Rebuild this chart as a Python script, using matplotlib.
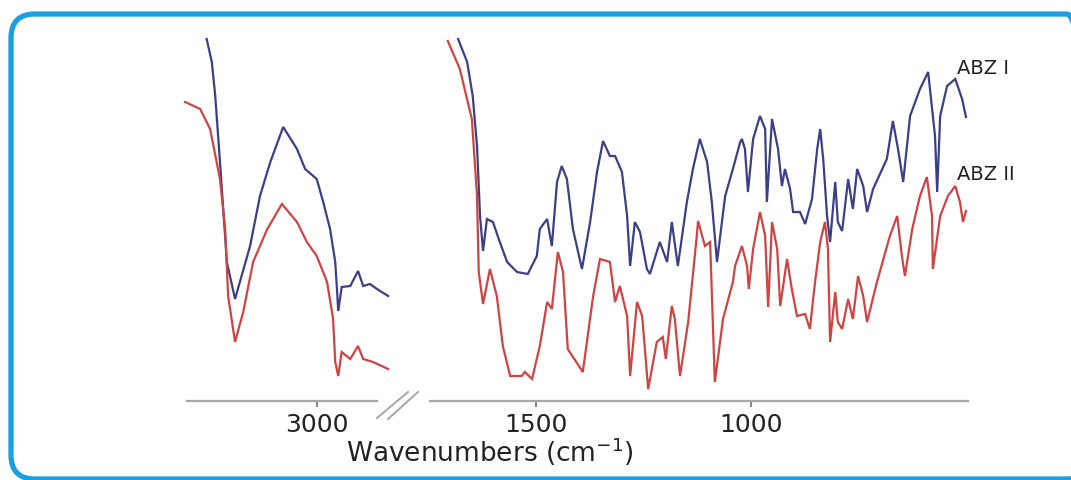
import matplotlib
matplotlib.use("Agg")
import matplotlib.pyplot as plt
from matplotlib.patches import FancyBboxPatch
from matplotlib.lines import Line2D
from matplotlib.transforms import IdentityTransform

# ---------------- data (wavenumber cm-1, transmittance a.u.) ----------------
# High-wavenumber region
hi_wn_I = [3257, 3245, 3237, 3226, 3210, 3191, 3156, 3133, 3109, 3079, 3047, 3028,
           3001, 2986, 2970, 2958, 2954, 2951, 2943, 2923, 2905, 2893, 2877, 2861, 2835]
hi_T_I = [362, 339, 305, 239, 139, 102, 155, 205, 239, 274, 252, 232,
          222, 199, 172, 139, 112, 90, 114, 115, 130, 115, 117, 112, 105]

hi_wn_II = [3307, 3272, 3249, 3226, 3214, 3207, 3191, 3172, 3149, 3116, 3082, 3047,
            3024, 3001, 2977, 2963, 2958, 2951, 2943, 2923, 2905, 2893, 2870, 2835]
hi_T_II = [299, 292, 272, 222, 172, 105, 59, 89, 139, 172, 197, 179,
           159, 145, 119, 82, 39, 25, 49, 42, 55, 42, 39, 32]

# Fingerprint region
lo_wn_I = [1681, 1660, 1647, 1637, 1630, 1623, 1614, 1600, 1584, 1567, 1544, 1519,
           1498, 1491, 1474, 1463, 1451, 1440, 1428, 1414, 1393, 1374, 1358, 1344,
           1328, 1316, 1300, 1288, 1281, 1270, 1258, 1242, 1235, 1212, 1195, 1184,
           1170, 1149, 1135, 1119, 1102, 1091, 1079, 1060, 1042, 1025, 1021, 1014,
           1007, 995, 979, 967, 963, 951, 937, 928, 921, 909, 902, 886, 874, 858,
           846, 839, 832, 823, 816, 804, 798, 788, 774, 763, 753, 739, 730, 716,
           684, 670, 658, 646, 630, 607, 588, 572, 567, 560, 544, 525, 509, 500]
lo_T_I = [362, 339, 305, 255, 185, 150, 182, 179, 159, 139, 129, 127,
          145, 172, 182, 155, 219, 235, 222, 172, 132, 179, 229, 260,
          245, 245, 229, 185, 135, 179, 169, 132, 127, 159, 139, 179,
          135, 199, 232, 262, 239, 199, 139, 205, 232, 259, 262, 252,
          209, 262, 285, 272, 199, 282, 252, 215, 232, 212, 189, 189, 177, 202,
          252, 272, 242, 185, 159, 219, 179, 170, 222, 192, 232, 215, 189, 212,
          242, 280, 252, 219, 285, 312, 329, 265, 209, 285, 315, 322, 302, 284]

lo_wn_II = [1705, 1677, 1649, 1637, 1633, 1623, 1607, 1591, 1577, 1560, 1533, 1526,
            1509, 1491, 1474, 1463, 1449, 1437, 1426, 1391, 1367, 1351, 1328, 1316,
            1305, 1288, 1281, 1265, 1253, 1239, 1219, 1205, 1198, 1184, 1177, 1165,
            1146, 1126, 1123, 1107, 1095, 1084, 1065, 1042, 1037, 1021, 1009, 1005,
            995, 979, 967, 960, 951, 939, 932, 916, 905, 893, 874, 863, 851, 839,
            828, 821, 816, 804, 798, 788, 774, 763, 751, 739, 730, 707, 677, 660,
            649, 642, 625, 607, 591, 579, 577, 560, 542, 525, 514, 507, 500]
lo_T_II = [360, 332, 282, 205, 129, 97, 132, 105, 55, 25, 25, 29,
           22, 55, 99, 92, 149, 129, 52, 29, 105, 142, 139, 99,
           115, 85, 25, 99, 85, 12, 59, 64, 42, 95, 82, 25,
           79, 165, 180, 155, 159, 19, 82, 119, 135, 155, 135, 112,
           152, 189, 165, 94, 179, 152, 95, 142, 112, 85, 87, 72, 119, 159,
           179, 152, 59, 109, 79, 72, 102, 82, 125, 105, 79, 119, 165, 185,
           145, 125, 172, 205, 224, 185, 132, 185, 205, 215, 199, 179, 190]

hi_ticks = [3000]
lo_ticks = [1500, 1000]
series_labels = ["ABZ I", "ABZ II"]
xlabel = "Wavenumbers (cm$^{-1}$)"

# ---------------- styling ----------------
W, H, DPI = 1071, 481, 100
col_I = "#3B3F86"
col_II = "#CF4343"
axis_col = "#A6A6A6"

fig = plt.figure(figsize=(W / DPI, H / DPI), dpi=DPI)
fig.patch.set_facecolor("white")

def px2fx(x):
    return x / W

def px2fy(y):
    return 1 - y / H

bottom = px2fy(402)
height = px2fy(30) - bottom
ax_hi = fig.add_axes([px2fx(183), bottom, px2fx(392) - px2fx(183), height])
ax_lo = fig.add_axes([px2fx(428), bottom, px2fx(972) - px2fx(428), height])

for ax, wn1, t1, wn2, t2, xl, bounds, ticks in [
    (ax_hi, hi_wn_I, hi_T_I, hi_wn_II, hi_T_II, (3312, 2826), (3302, 2860), hi_ticks),
    (ax_lo, lo_wn_I, lo_T_I, lo_wn_II, lo_T_II, (1751, 486), (1747, 495), lo_ticks),
]:
    ax.plot(wn1, t1, color=col_I, lw=1.6, solid_joinstyle="miter")
    ax.plot(wn2, t2, color=col_II, lw=1.6, solid_joinstyle="miter")
    ax.set_xlim(*xl)
    ax.set_ylim(0, 372)
    ax.set_facecolor("none")
    for s in ("left", "right", "top"):
        ax.spines[s].set_visible(False)
    ax.spines["bottom"].set_color(axis_col)
    ax.spines["bottom"].set_linewidth(1.6)
    ax.spines["bottom"].set_bounds(*bounds)
    ax.set_yticks([])
    ax.set_xticks(ticks)
    ax.set_xticklabels([str(t) for t in ticks])
    ax.tick_params(axis="x", direction="out", length=4, width=1.5, color="#888888",
                   labelsize=18, labelcolor="#222222", pad=4)

# break marks
for (x0, y0, x1, y1) in [(377, 419, 408, 393), (388, 420, 418, 393)]:
    fig.add_artist(Line2D([px2fx(x0), px2fx(x1)], [px2fy(y0), px2fy(y1)],
                          transform=fig.transFigure, color=axis_col, lw=1.4))

# series labels
fig.text(px2fx(957), px2fy(68), series_labels[0], fontsize=14, color="#222222",
         ha="left", va="center")
fig.text(px2fx(957), px2fy(175), series_labels[1], fontsize=14, color="#222222",
         ha="left", va="center")

# x label
fig.text(px2fx(490), px2fy(452), xlabel, fontsize=19, color="#222222",
         ha="center", va="center")

# rounded blue frame (right and bottom edges run off the image)
frame = FancyBboxPatch((11, 1), 1080, 465,
                       boxstyle="round,pad=0,rounding_size=24",
                       transform=IdentityTransform(), fill=False,
                       edgecolor="#1A9FE3", linewidth=3.8)
fig.add_artist(frame)

fig.savefig("out.png", dpi=DPI)
